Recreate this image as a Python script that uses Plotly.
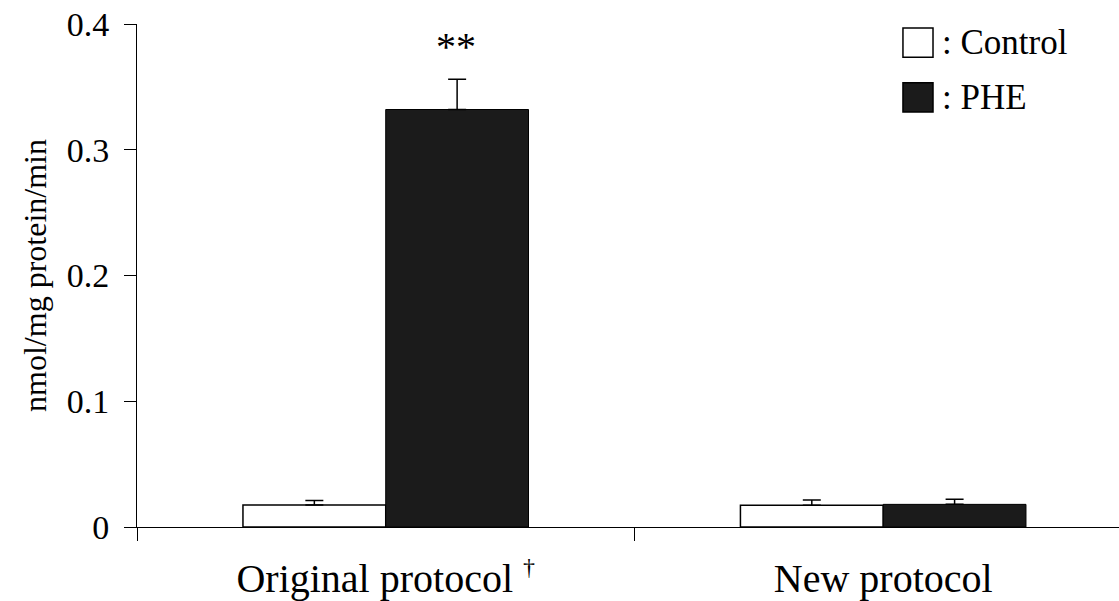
import plotly.graph_objects as go

categories = ["Original protocol", "New protocol"]
tick_labels = ["Original protocol <sup><span style='font-size:24px'>†</span></sup>",
               "New protocol"]
control_vals = [0.0175, 0.0173]
control_err = [0.0035, 0.0042]
phe_vals = [0.332, 0.018]
phe_err = [0.024, 0.004]
y_ticks = [0, 0.1, 0.2, 0.3, 0.4]
y_ticktext = ["0", "0.1", "0.2", "0.3", "0.4"]
sig_marks = ["**", ""]

FONT = "Liberation Serif, Times New Roman, serif"
DARK = "#1b1b1b"

fig = go.Figure()
fig.add_trace(go.Bar(
    x=categories, y=control_vals, name="Control",
    marker=dict(color="white", line=dict(color="black", width=1.5)),
    error_y=dict(type="data", symmetric=False, array=control_err,
                 arrayminus=[0] * len(control_err), color="black",
                 thickness=1.5, width=9),
    showlegend=False,
))
fig.add_trace(go.Bar(
    x=categories, y=phe_vals, name="PHE",
    marker=dict(color=DARK, line=dict(color="black", width=1)),
    error_y=dict(type="data", symmetric=False, array=phe_err,
                 arrayminus=[0] * len(phe_err), color="black",
                 thickness=1.5, width=9),
    showlegend=False,
))

# significance marks above PHE bars
for i, s in enumerate(sig_marks):
    if s:
        fig.add_annotation(
            x=categories[i], y=phe_vals[i] + phe_err[i], xshift=70,
            text=s, showarrow=False, yshift=33,
            font=dict(family=FONT, size=40, color="black"),
        )

# legend drawn manually
legend_items = [("Control", "white", 0.992), ("PHE", DARK, 0.883)]
for name, col, ytop in legend_items:
    fig.add_shape(type="rect", xref="paper", yref="paper",
                  x0=0.780, x1=0.8106, y0=ytop - 0.058, y1=ytop,
                  fillcolor=col, line=dict(color="black", width=1.5))
    fig.add_annotation(xref="paper", yref="paper", x=0.818, y=ytop - 0.029,
                       xanchor="left", yanchor="middle", showarrow=False,
                       text=": " + name,
                       font=dict(family=FONT, size=35, color="black"))

fig.update_layout(
    width=1119, height=601,
    margin=dict(l=137, r=0, t=24, b=74),
    plot_bgcolor="white", paper_bgcolor="white",
    barmode="group", bargap=0.426, bargroupgap=0,
    font=dict(family=FONT, size=34, color="black"),
)
fig.update_xaxes(
    range=[-0.5, 1.474], showline=True, linecolor="black", linewidth=1,
    ticks="outside", tickson="boundaries", ticklen=13, tickcolor="black",
    tickvals=categories, ticktext=tick_labels, ticklabelstandoff=16,
    tickfont=dict(family=FONT, size=40), showgrid=False, zeroline=False,
)
fig.update_yaxes(
    range=[0, 0.4], showline=True, linecolor="black", linewidth=1,
    ticks="outside", ticklen=12, tickcolor="black",
    tickvals=y_ticks, ticktext=y_ticktext, ticklabelstandoff=8,
    tickfont=dict(family=FONT, size=34), showgrid=False, zeroline=False,
    title=dict(text="nmol/mg protein/min", font=dict(family=FONT, size=32),
               standoff=10),
)

fig.write_html("out.html")
